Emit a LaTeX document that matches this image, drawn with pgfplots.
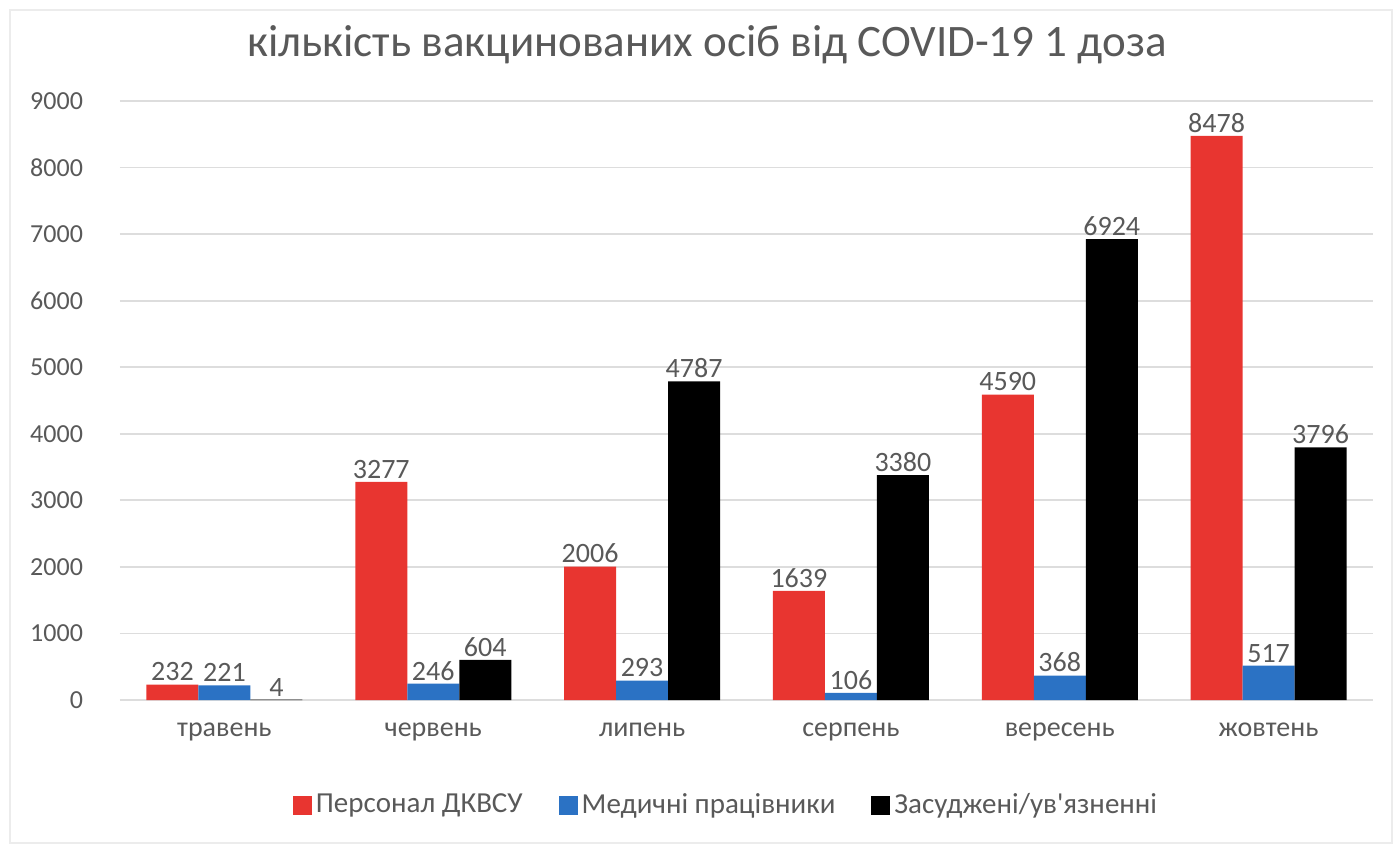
\documentclass[border=0pt]{standalone}
\usepackage{pgfplots}
\pgfplotsset{compat=1.18}
\usepackage{fontspec}
\setmainfont{Carlito}[Ligatures=TeXOff]
\definecolor{cred}{HTML}{E83530}
\definecolor{cblue}{HTML}{2B72C4}
\definecolor{cblack}{HTML}{000000}
\definecolor{textgray}{HTML}{595959}
\definecolor{gridgray}{HTML}{DDDDDD}
\begin{document}
\begin{tikzpicture}
\useasboundingbox (-60pt,-76.5pt) rectangle (638pt,350pt);
\draw[gray!15, line width=1pt] (-55pt,-71.5pt) rectangle (636pt,345pt);
\begin{axis}[
  at={(0,0)}, anchor=south west,
  width=626.5pt, height=299.5pt, scale only axis,
  ybar=0pt, bar width=26pt,
  xmin=-0.5, xmax=5.5, ymin=0, ymax=9000,
  xtick={0,...,5},
  xticklabels={травень,червень,липень,серпень,вересень,жовтень},
  ytick={0,1000,...,9000},
  axis line style={draw=none},
  major tick length=0pt,
  ymajorgrids, grid style={draw=gridgray, line width=0.9pt},
  ticklabel style={font=\fontsize{13}{15}\selectfont, text=textgray},
  /pgf/number format/.cd, 1000 sep={}, assume math mode=true, /pgfplots/.cd,
  yticklabel style={xshift=-15pt},
  xticklabel style={yshift=-8pt, font=\fontsize{14}{16}\selectfont},
  nodes near coords,
  nodes near coords style={font=\fontsize{14}{16}\selectfont, text=textgray, inner sep=1.5pt},
  legend style={at={(0.4844,-0.1753)}, anchor=center, draw=none, fill=none,
    font=\fontsize{14.5}{16}\selectfont, text=textgray,
    /tikz/every even column/.append style={column sep=16pt}},
  legend columns=-1,
  legend image code/.code={\fill[#1] (0pt,-5pt) rectangle (9.5pt,4.5pt);},
]
\addplot[fill=cred, draw=none] coordinates {(0,232) (1,3277) (2,2006) (3,1639) (4,4590) (5,8478)};
\addplot[fill=cblue, draw=none] coordinates {(0,221) (1,246) (2,293) (3,106) (4,368) (5,517)};
\addplot[fill=cblack, draw=none] coordinates {(0,4) (1,604) (2,4787) (3,3380) (4,6924) (5,3796)};
\legend{Персонал ДКВСУ, Медичні працівники, Засуджені/ув'язненні}
\end{axis}
\node[text=textgray, font=\fontsize{22.5}{26}\selectfont] at (293.5pt,327.5pt) {кількість вакцинованих осіб від COVID-19 1 доза};
\end{tikzpicture}
\end{document}
